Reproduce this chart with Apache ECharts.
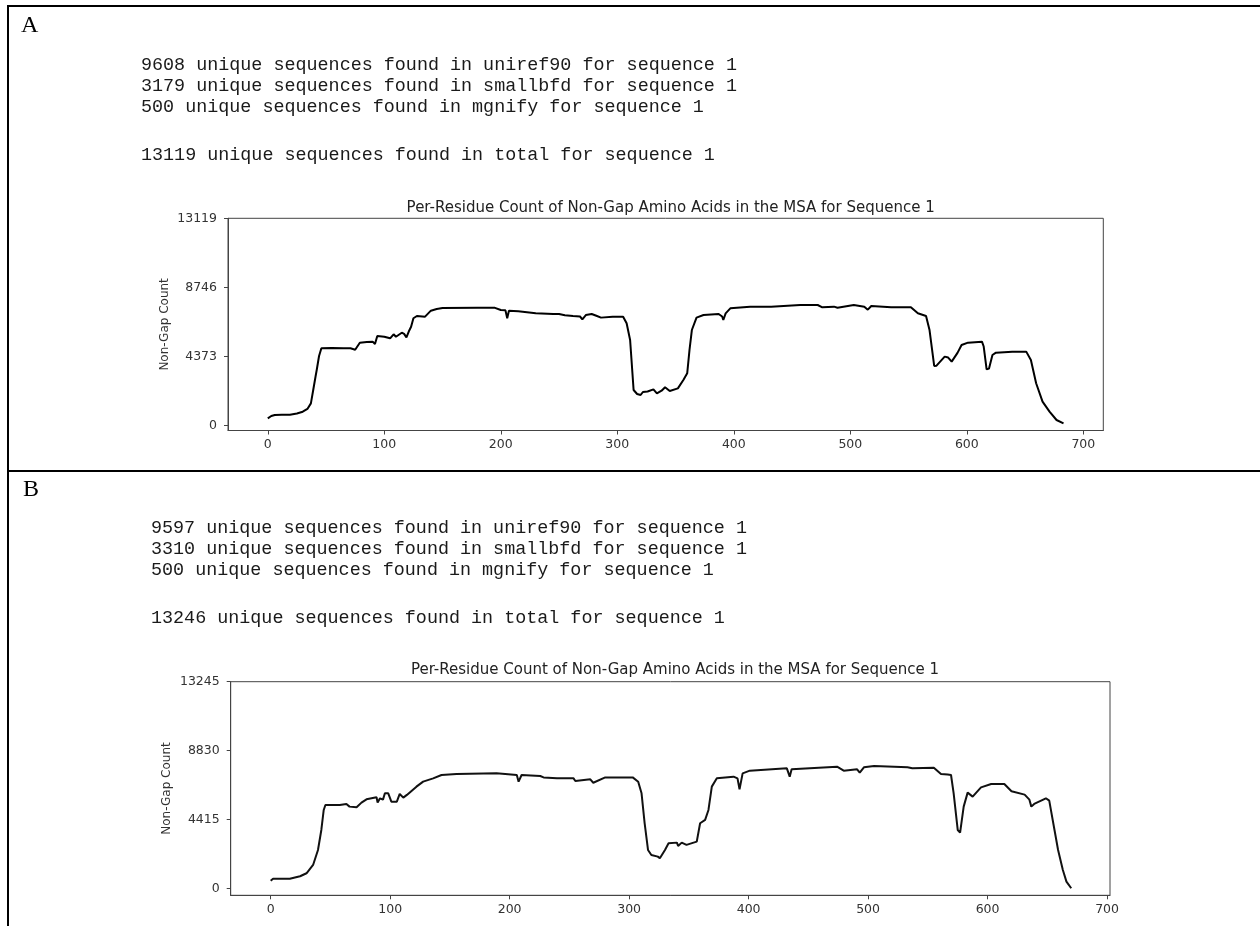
<!DOCTYPE html>
<html>
<head>
<meta charset="utf-8">
<script src="https://cdn.jsdelivr.net/npm/echarts/dist/echarts.min.js"></script>
<style>
html,body{margin:0;padding:0;background:#fff;}
#chart{width:1260px;height:926px;}
</style>
</head>
<body>
<div id="chart"></div>
<script>
// ---------- Panel A data ----------
const posA = [0,3,6,12,19,25,30,34,37,39,41,42,44,46,55,65,71,75,79,85,90,92,94,100,105,108,110,115,117,119,121,123,125,128,135,140,145,150,180,195,200,204,205.5,207,215,230,245,250,255,262,268,270,273,278,282,286,296,305,308,311,314,317,320,322,326,331,334,338,341,345,352,356.7,360,362,364,368,374,387,390,391,393,397,414,432,457,472,476,486,489,503,512,515,518,535,552,558,565,568,572,574,581,584,587,592,595.5,601,613,614.5,617,619,622,625,639,651,655,659.5,665,671,677,683];
const countA = [450,600,665,680,680,760,875,1050,1400,2250,3100,3514,4400,4887,4900,4890,4890,4800,5243,5280,5310,5160,5667,5622,5519,5773,5622,5875,5800,5583,5950,6255,6788,6934,6890,7270,7377,7440,7461,7450,7313,7290,6788,7270,7230,7103,7060,7060,6980,6934,6900,6725,6990,7060,6950,6830,6890,6890,6471,5414,2248,1995,1931,2121,2150,2290,2037,2200,2416,2184,2353,2881,3303,4800,6045,6830,6997,7060,6900,6680,7103,7419,7525,7525,7630,7630,7482,7525,7460,7630,7525,7335,7567,7482,7482,7103,6934,6045,3768,3789,4360,4300,4043,4600,5097,5245,5307,5000,3556,3600,4466,4612,4677,4677,4150,2672,1508,874,348,139];
const yTicksA = [0,4373,8746,13119];
const textA = [
  "9608 unique sequences found in uniref90 for sequence 1",
  "3179 unique sequences found in smallbfd for sequence 1",
  "500 unique sequences found in mgnify for sequence 1",
  "13119 unique sequences found in total for sequence 1"
];

// ---------- Panel B data ----------
const posB = [0,2,16,24.6,30,35.5,39.6,42.4,44.4,45.8,57.8,63.4,66,71.9,76,80.2,88.6,89.5,91.5,94,95.6,98.4,101,105.6,108,111,114,122,127.6,136,143,155.6,189,206,207.5,210,225.6,228.4,239.6,253.5,255,267.5,270,280,303,307.6,310.4,313,315.8,318.6,324,325.7,330,333,340,341,344,348,356.6,359.4,363.6,366.4,369.2,373.4,387.4,390.7,392.4,395,401,432,434.4,436,474,479.6,490.8,493,496.5,505,533,537,555,561,566.6,569.4,571.6,575,577,580,583.3,587.5,594.5,603,614,620,631,635,636.6,639,648.8,651.6,656,659,663,666,670];
const countB = [512,640,640,793,985,1517,2476,3756,5036,5356,5356,5420,5250,5207,5505,5719,5847,5505,5783,5700,6103,6103,5570,5570,6060,5826,6000,6527,6847,7060,7275,7340,7380,7275,6847,7275,7210,7120,7060,7060,6890,6995,6780,7120,7120,6847,6103,4184,2476,2156,2050,1943,2476,2903,2946,2733,2946,2800,3010,4184,4400,5036,6530,7060,7167,7060,6360,7380,7551,7700,7167,7636,7807,7551,7636,7420,7764,7850,7764,7700,7743,7340,7300,7275,6103,3756,3585,5250,6145,5890,6485,6700,6700,6230,6017,5697,5250,5420,5783,5633,3756,2476,1197,450,25];
const yTicksB = [0,4415,8830,13245];
const textB = [
  "9597 unique sequences found in uniref90 for sequence 1",
  "3310 unique sequences found in smallbfd for sequence 1",
  "500 unique sequences found in mgnify for sequence 1",
  "13246 unique sequences found in total for sequence 1"
];

const xTicks = [0,100,200,300,400,500,600,700];
const chartTitle = "Per-Residue Count of Non-Gap Amino Acids in the MSA for Sequence 1";
const yName = "Non-Gap Count";

const zip = (xs, ys) => xs.map((x, i) => [x, ys[i]]);

const sans = '"DejaVu Sans", sans-serif';
const mono = '"Liberation Mono", "Courier New", monospace';
const serif = '"Liberation Serif", "DejaVu Serif", serif';

function xAxisCfg(grid, min, max) {
  return {
    gridIndex: grid, type: 'value', min: min, max: max,
    axisLine: {show: true, onZero: false, lineStyle: {color: '#444', width: 1}},
    axisTick: {show: true, customValues: xTicks, length: 4, lineStyle: {color: '#444'}},
    axisLabel: {customValues: xTicks, color: '#333', fontFamily: sans, fontSize: 12.5, margin: 8,
      formatter: v => String(v)},
    splitLine: {show: false}
  };
}
function yAxisCfg(grid, min, max, ticks, gap) {
  return {
    gridIndex: grid, type: 'value', min: min, max: max,
    name: yName, nameLocation: 'middle', nameGap: gap, nameRotate: 90, nameMoveOverlap: false,
    nameTextStyle: {color: '#333', fontFamily: sans, fontSize: 12},
    axisLine: {show: true, onZero: false, lineStyle: {color: '#444', width: 1}},
    axisTick: {show: true, customValues: ticks, length: 4, lineStyle: {color: '#444'}},
    axisLabel: {customValues: ticks, color: '#333', fontFamily: sans, fontSize: 12.5, margin: 11,
      formatter: v => String(v)},
    splitLine: {show: false}
  };
}

const graphics = [];
// table borders
graphics.push({type: 'rect', shape: {x: 7, y: 5, width: 1253, height: 2}, style: {fill: '#000'}});
graphics.push({type: 'rect', shape: {x: 7, y: 5, width: 2, height: 921}, style: {fill: '#000'}});
graphics.push({type: 'rect', shape: {x: 7, y: 470, width: 1253, height: 2}, style: {fill: '#000'}});
// panel letters
graphics.push({type: 'text', x: 21, y: 37.5, style: {text: 'A', font: '24px ' + serif, fill: '#000', verticalAlign: 'bottom'}});
graphics.push({type: 'text', x: 23, y: 502, style: {text: 'B', font: '24px ' + serif, fill: '#000', verticalAlign: 'bottom'}});
// printed output lines
const yA = [64.7, 85.7, 107, 154.7];
const yB = [528, 549, 570, 618];
textA.forEach((t, i) => graphics.push({type: 'text', x: 141, y: yA[i],
  style: {text: t, font: '18.4px ' + mono, fill: '#1a1a1a', verticalAlign: 'middle'}}));
textB.forEach((t, i) => graphics.push({type: 'text', x: 151, y: yB[i],
  style: {text: t, font: '18.4px ' + mono, fill: '#1a1a1a', verticalAlign: 'middle'}}));

const option = {
  backgroundColor: '#fff',
  animation: false,
  title: [
    {text: chartTitle, left: 665.7, top: 196, textAlign: 'center',
      textStyle: {fontFamily: sans, fontSize: 15, fontWeight: 'normal', color: '#222'}},
    {text: chartTitle, left: 670, top: 658, textAlign: 'center',
      textStyle: {fontFamily: sans, fontSize: 15, fontWeight: 'normal', color: '#222'}}
  ],
  grid: [
    {left: 228, top: 218.3, width: 875.3, height: 212.2, show: true, borderColor: '#444', borderWidth: 1, containLabel: false},
    {left: 230.7, top: 681.7, width: 879.3, height: 213.6, show: true, borderColor: '#444', borderWidth: 1, containLabel: false}
  ],
  xAxis: [xAxisCfg(0, -34.15, 717.15), xAxisCfg(1, -33.45, 702.45)],
  yAxis: [yAxisCfg(0, -317, 13119, yTicksA, 57), yAxisCfg(1, -425, 13245, yTicksB, 58)],
  series: [
    {type: 'line', xAxisIndex: 0, yAxisIndex: 0, data: zip(posA, countA), showSymbol: false,
      lineStyle: {color: '#000', width: 2}, silent: true},
    {type: 'line', xAxisIndex: 1, yAxisIndex: 1, data: zip(posB, countB), showSymbol: false,
      lineStyle: {color: '#111', width: 2}, silent: true}
  ],
  graphic: graphics
};

const chart = echarts.init(document.getElementById('chart'), null, {renderer: 'canvas'});
chart.setOption(option);
</script>
</body>
</html>
